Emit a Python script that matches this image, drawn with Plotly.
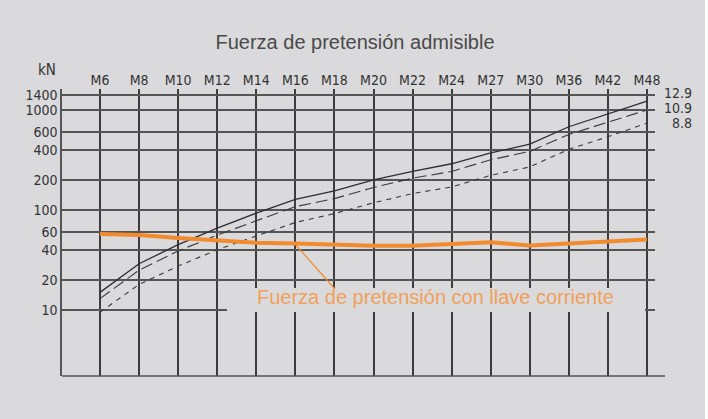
import plotly.graph_objects as go

# ---- data ----
categories = ["M6", "M8", "M10", "M12", "M14", "M16", "M18", "M20",
              "M22", "M24", "M27", "M30", "M36", "M42", "M48"]
grade_12_9 = [15, 29, 45, 66, 93, 128, 155, 200, 243, 290, 372, 455, 680, 910, 1230]
grade_10_9 = [13, 25, 39, 56, 78, 108, 130, 168, 208, 243, 318, 385, 570, 750, 1000]
grade_8_8 = [9.5, 18, 27.5, 40, 55, 75, 92, 118, 146, 170, 222, 270, 405, 540, 740]
llave_corriente = [57.5, 56.2, 52.5, 49.2, 47.0, 46.3, 44.9, 43.9, 44.0, 45.4,
                   47.5, 44.2, 46.3, 48.0, 50.8]
y_tick_values = [10, 20, 40, 60, 100, 200, 400, 600, 1000, 1400]
y_tick_labels = ["10", "20", "40", "60", "100", "200", "400", "600", "1000", "1400"]
grade_labels = ["12.9", "10.9", "8.8"]

BG = "#dadadc"
ORANGE = "#f28a2e"
ORANGE_TXT = "#f0a05a"
INK = "#333333"
NARROW = "DejaVu Sans Condensed, Liberation Sans Narrow, Liberation Sans, sans-serif"

fig = go.Figure()
fig.add_trace(go.Scatter(x=categories, y=grade_12_9, mode="lines",
                         line=dict(color="#2e2e2e", width=1.3), name="12.9"))
fig.add_trace(go.Scatter(x=categories, y=grade_10_9, mode="lines",
                         line=dict(color="#3a3a3a", width=1.1, dash="12px,5px"), name="10.9"))
fig.add_trace(go.Scatter(x=categories, y=grade_8_8, mode="lines",
                         line=dict(color="#3a3a3a", width=1.1, dash="5px,5px"), name="8.8"))
fig.add_trace(go.Scatter(x=categories, y=llave_corriente, mode="lines",
                         line=dict(color=ORANGE, width=4), name="llave"))

# plot-area geometry (pixels)
L, R, T, B = 62, 655, 89, 376
W, H = 708, 419
pw, ph = R - L, B - T


def px(xp):
    return (xp - L) / pw


def py(yp):
    return (B - yp) / ph


fig.update_layout(
    width=W, height=H,
    margin=dict(l=L, r=W - R, t=T, b=H - B, autoexpand=False),
    paper_bgcolor=BG, plot_bgcolor=BG,
    showlegend=False,
    title=dict(text="Fuerza de pretensión admisible", x=355 / W, xref="container",
               xanchor="center", y=1 - 42 / H, yanchor="middle",
               font=dict(family="Liberation Sans", size=20, color="#4a4a4a")),
    xaxis=dict(type="category", categoryorder="array", categoryarray=categories,
               range=[-0.973, 14.205], side="top", showgrid=True, automargin=False,
               gridcolor="#3c3c3c", gridwidth=1.6, showline=False, zeroline=False,
               ticks="", ticklabelstandoff=0,
               tickfont=dict(family=NARROW, size=14, color=INK)),
    yaxis=dict(type="log", range=[0.34, 3.21], tickvals=y_tick_values, automargin=False,
               ticktext=y_tick_labels, showgrid=True, gridcolor="#555555",
               gridwidth=1.5, showline=True, linecolor="#555555", linewidth=1.5,
               zeroline=False, ticks="",
               tickfont=dict(family=NARROW, size=14, color=INK)),
)

shapes = [
    # mask behind the orange caption (breaks the grid there)
    dict(type="rect", xref="paper", yref="paper", x0=px(227), x1=px(645),
         y0=py(312), y1=py(288), fillcolor=BG, line=dict(width=0), layer="above"),
    # leader line from orange curve to caption
    dict(type="line", xref="paper", yref="paper", x0=px(294), y0=py(243),
         x1=px(335), y1=py(289), line=dict(color=ORANGE, width=1.2), layer="above"),
    # bottom frame line
    dict(type="line", xref="paper", yref="paper", x0=0, x1=px(665), y0=0, y1=0,
         line=dict(color="#555555", width=1.5), layer="above"),
    # white strip at right edge of the scan
    dict(type="rect", xref="paper", yref="paper", x0=px(705), x1=px(720),
         y0=py(430), y1=py(-10), fillcolor="white", line=dict(width=0), layer="above"),
]
fig.update_layout(shapes=shapes)

annotations = [
    dict(text="kN", xref="paper", yref="paper", x=px(58), y=py(70),
         xanchor="right", yanchor="middle", showarrow=False,
         font=dict(family=NARROW, size=15, color=INK)),
    dict(text="Fuerza de pretensión con llave corriente", xref="paper", yref="paper",
         x=px(255), y=py(297), xanchor="left", yanchor="middle", showarrow=False,
         font=dict(family="Liberation Sans", size=20, color=ORANGE_TXT)),
]
for lbl, ypix in zip(grade_labels, [93, 108, 122.5]):
    annotations.append(dict(text=lbl, xref="paper", yref="paper", x=px(694), y=py(ypix),
                            xanchor="right", yanchor="middle", showarrow=False,
                            font=dict(family=NARROW, size=14, color=INK)))
fig.update_layout(annotations=annotations)

fig.write_html("out.html", config={"displayModeBar": False},
               post_script="document.body.style.margin='0';document.body.style.padding='0';")
